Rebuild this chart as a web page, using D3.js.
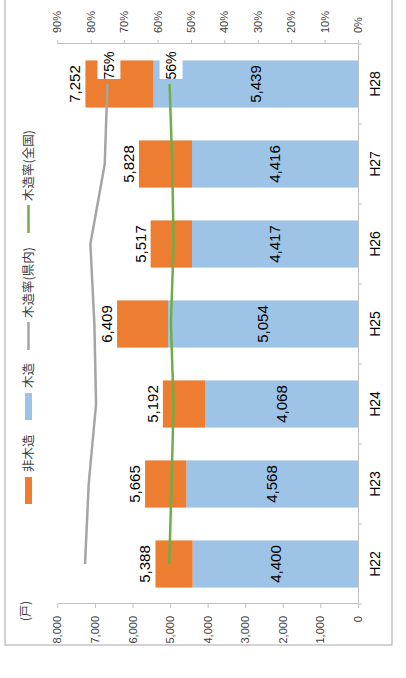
<!DOCTYPE html>
<html><head><meta charset="utf-8">
<script src="https://cdn.jsdelivr.net/npm/d3@7"></script>
<style>
html,body{margin:0;padding:0;background:#fff;}
svg{display:block;}
.num{font-family:"Liberation Sans Narrow","Liberation Sans",Arial,sans-serif;}
.cjk{font-family:"Noto Sans CJK JP","Noto Sans CJK SC",sans-serif;}
</style></head>
<body>
<script>
const categories = ["H22","H23","H24","H25","H26","H27","H28"];
const wood = [4400,4568,4068,5054,4417,4416,5439];
const nonWood = [988,1097,1124,1355,1100,1412,1813];
const totals = [5388,5665,5192,6409,5517,5828,7252];
const rateKennai = [81.7,80.6,78.4,78.9,80.1,75.8,75.0];
const rateZenkoku = [56.5,55.8,55.2,56.0,55.2,55.6,56.4];
const countTicks = [0,1000,2000,3000,4000,5000,6000,7000,8000];
const pctTicks = [0,10,20,30,40,50,60,70,80,90];
const legendNames = ["非木造","木造","木造率(県内)","木造率(全国)"];
const unitLabel = "(戸)";

const C = {orange:"#ED7D31", blue:"#9DC3E6", gray:"#A5A5A5", green:"#70AD47", axis:"#BFBFBF", text:"#404040"};

const W = 406, H = 678;
const svg = d3.select("body").append("svg").attr("width",W).attr("height",H);
// chart drawn in unrotated coordinates (u horizontal, v vertical), rotated -90deg
const g = svg.append("g").attr("transform",`translate(0,${H}) rotate(-90)`);

const uL = 74, uR = 634, vTop = 57.3, vBase = 358;

g.append("rect").attr("x",33).attr("y",5).attr("width",700).attr("height",387)
  .attr("fill","none").attr("stroke","#A6A6A6").attr("stroke-width",1);

const xb = d3.scaleBand().domain(categories).range([uL,uR]).paddingInner(0.41).paddingOuter(0.205);
const xs = d3.scaleBand().domain(categories).range([uL,uR]).padding(0);
const y = d3.scaleLinear().domain([0,8000]).range([vBase,vTop]);
const yr = d3.scaleLinear().domain([0,90]).range([vBase,vTop]);

// left axis
const axL = g.append("g").attr("transform",`translate(${uL},0)`)
  .call(d3.axisLeft(y).tickValues(countTicks).tickFormat(d3.format(",")).tickSize(4).tickPadding(8).tickSizeOuter(0));
// right axis
const axR = g.append("g").attr("transform",`translate(${uR},0)`)
  .call(d3.axisRight(yr).tickValues(pctTicks).tickFormat(d=>d+"%").tickSize(4).tickPadding(7).tickSizeOuter(0));
[axL,axR].forEach(a=>{
  a.selectAll("path,line").attr("stroke",C.axis);
  a.selectAll("text").attr("class","num").attr("font-size",11).attr("fill",C.text);
});

// category axis
const axB = g.append("g").attr("transform",`translate(0,${vBase})`)
  .call(d3.axisBottom(xs).tickSize(0).tickPadding(12).tickSizeOuter(0));
axB.select("path").attr("stroke",C.axis);
axB.selectAll("text").attr("class","num").attr("font-size",14).attr("fill","#000");
const bounds = categories.map(c=>xs(c)).concat([xs(categories[categories.length-1])+xs.bandwidth()]);
axB.selectAll("line.bnd").data(bounds).join("line").attr("class","bnd")
  .attr("x1",d=>d).attr("x2",d=>d).attr("y1",0).attr("y2",4).attr("stroke",C.axis);

// bars
const data = categories.map((c,i)=>({c,wood:wood[i],non:nonWood[i],tot:totals[i],rk:rateKennai[i],rz:rateZenkoku[i]}));
g.append("g").selectAll("rect").data(data).join("rect")
  .attr("x",d=>xb(d.c)).attr("width",xb.bandwidth())
  .attr("y",d=>y(d.wood)).attr("height",d=>y(0)-y(d.wood)).attr("fill",C.blue);
g.append("g").selectAll("rect").data(data).join("rect")
  .attr("x",d=>xb(d.c)).attr("width",xb.bandwidth())
  .attr("y",d=>y(d.wood+d.non)).attr("height",d=>y(d.wood)-y(d.wood+d.non)).attr("fill",C.orange);

// bar labels
const fmt = d3.format(",");
g.append("g").selectAll("text").data(data).join("text").attr("class","num")
  .attr("x",d=>xb(d.c)+xb.bandwidth()/2).attr("y",d=>y(d.tot)-5)
  .attr("text-anchor","middle").attr("font-size",15).attr("fill","#000").text(d=>fmt(d.tot));
g.append("g").selectAll("text").data(data).join("text").attr("class","num")
  .attr("x",d=>xb(d.c)+xb.bandwidth()/2).attr("y",d=>(y(0)+y(d.wood))/2)
  .attr("dy","0.35em").attr("text-anchor","middle").attr("font-size",15).attr("fill","#000").text(d=>fmt(d.wood));

// lines
const cx = d=>xb(d.c)+xb.bandwidth()/2;
g.append("path").datum(data).attr("fill","none").attr("stroke",C.gray).attr("stroke-width",2.5)
  .attr("d",d3.line().x(cx).y(d=>yr(d.rk)));
g.append("path").datum(data).attr("fill","none").attr("stroke",C.green).attr("stroke-width",2.5)
  .attr("d",d3.line().x(cx).y(d=>yr(d.rz)));

// last point labels
const last = data[data.length-1];
[[last.rk,"75%"],[last.rz,"56%"]].forEach(([v,t])=>{
  const px = cx(last), py = yr(v);
  g.append("rect").attr("x",px+5).attr("y",py-10).attr("width",27).attr("height",23).attr("fill","#fff");
  g.append("text").attr("class","num").attr("x",px+18.5).attr("y",py+1.5).attr("dy","0.35em")
    .attr("text-anchor","middle").attr("font-size",14).attr("fill","#000").text(t);
});

// unit label
g.append("text").attr("class","cjk").attr("x",67).attr("y",26).attr("dy","0.35em")
  .attr("text-anchor","middle").attr("font-size",12).attr("fill",C.text).text(unitLabel);

// legend
const legStarts = [174,258,328,445];
const legColors = [C.orange,C.blue,C.gray,C.green];
legendNames.forEach((n,i)=>{
  const u0 = legStarts[i];
  if(i<2){
    g.append("rect").attr("x",u0).attr("y",25).attr("width",27).attr("height",7).attr("fill",legColors[i]);
  } else {
    g.append("line").attr("x1",u0).attr("x2",u0+28).attr("y1",28.5).attr("y2",28.5)
      .attr("stroke",legColors[i]).attr("stroke-width",2.5);
  }
  g.append("text").attr("class","cjk").attr("x",u0+32).attr("y",28.5).attr("dy","0.35em")
    .attr("font-size",12.5).attr("fill",C.text).text(n);
});
</script>
</body></html>
